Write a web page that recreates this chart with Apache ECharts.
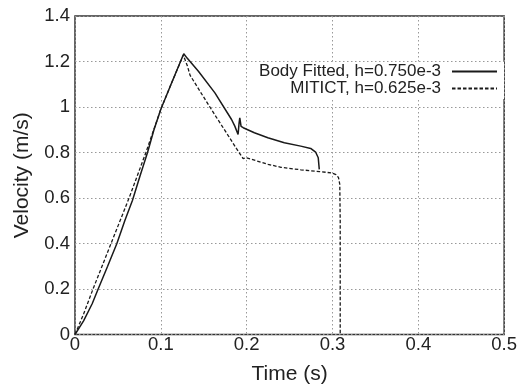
<!DOCTYPE html>
<html>
<head>
<meta charset="utf-8">
<script src="https://cdn.jsdelivr.net/npm/echarts@6/dist/echarts.min.js"></script>
<style>html,body{margin:0;padding:0;background:#fff}#c{width:520px;height:390px}</style>
</head>
<body>
<div id="c"></div>
<script>
// Tick values
const xTicks = [0, 0.1, 0.2, 0.3, 0.4, 0.5];
const yTicks = [0, 0.2, 0.4, 0.6, 0.8, 1.0, 1.2, 1.4];
const seriesNames = ['Body Fitted, h=0.750e-3', 'MITICT, h=0.625e-3'];

// Body fitted (solid)
const bodyT = [0, 0.01, 0.02, 0.027, 0.038, 0.0488, 0.058, 0.067, 0.076, 0.0845, 0.092, 0.1, 0.113, 0.1267,
  0.1306, 0.144, 0.163, 0.1824, 0.1862, 0.190, 0.1912, 0.192, 0.1935, 0.196, 0.209, 0.2247, 0.2439, 0.263, 0.2746, 0.2803, 0.2834, 0.2846];
const bodyV = [0, 0.06, 0.135, 0.2, 0.3, 0.4, 0.5, 0.59, 0.7, 0.8, 0.9, 0.99, 1.11, 1.234,
  1.215, 1.156, 1.062, 0.945, 0.916, 0.879, 0.93, 0.952, 0.915, 0.909, 0.887, 0.865, 0.843, 0.828, 0.818, 0.802, 0.777, 0.726];

// MITICT (dashed)
const mitT = [0, 0.01, 0.021, 0.042, 0.063, 0.0826, 0.1, 0.113, 0.1262,
  0.131, 0.134, 0.148, 0.163, 0.175, 0.188, 0.1959, 0.1997, 0.2055, 0.225, 0.24, 0.263, 0.285, 0.2995, 0.304, 0.307, 0.3085, 0.309, 0.309];
const mitV = [0, 0.09, 0.2, 0.4, 0.6, 0.8, 0.99, 1.11, 1.228,
  1.18, 1.14, 1.055, 0.965, 0.895, 0.818, 0.773, 0.777, 0.77, 0.748, 0.735, 0.724, 0.716, 0.71, 0.703, 0.69, 0.66, 0.5, 0];

const zip = (a, b) => a.map((v, i) => [v, b[i]]);
const FONT = 'Liberation Sans, Arial, Helvetica, sans-serif';
const chart = echarts.init(document.getElementById('c'), null, {renderer: 'canvas'});
chart.setOption({
  animation: false,
  backgroundColor: '#fff',
  grid: {left: 75, right: 11, top: 16, bottom: 54, show: true, borderColor: '#333', borderWidth: 1.5, backgroundColor: 'transparent'},
  legend: {
    data: seriesNames,
    orient: 'vertical',
    align: 'right',
    right: 16,
    top: 62,
    padding: [1, 6, 2, 8],
    itemGap: 0,
    itemWidth: 45,
    itemHeight: 14,
    backgroundColor: '#fff',
    itemStyle: {opacity: 0},
    textStyle: {fontFamily: FONT, fontSize: 17, color: '#222', padding: [0, 6, 0, 0]}
  },
  xAxis: {
    type: 'value', min: xTicks[0], max: xTicks[xTicks.length - 1], interval: 0.1,
    name: 'Time (s)', nameLocation: 'middle', nameGap: 40,
    nameTextStyle: {fontFamily: FONT, fontSize: 21, color: '#222', verticalAlign: 'middle'},
    axisLine: {show: false},
    axisTick: {show: false},
    axisLabel: {fontFamily: FONT, fontSize: 18.5, color: '#222', margin: 1},
    splitLine: {show: true, lineStyle: {color: '#999', type: [1.5, 2.5], width: 1}}
  },
  yAxis: {
    type: 'value', min: yTicks[0], max: yTicks[yTicks.length - 1], interval: 0.2,
    name: 'Velocity (m/s)', nameLocation: 'middle', nameGap: 53,
    nameTextStyle: {fontFamily: FONT, fontSize: 21, color: '#222', verticalAlign: 'middle'},
    axisLine: {show: false},
    axisTick: {show: false},
    axisLabel: {fontFamily: FONT, fontSize: 18.5, color: '#222', margin: 5},
    splitLine: {show: true, lineStyle: {color: '#999', type: [1.5, 2.5], width: 1}}
  },
  series: [
    {name: seriesNames[0], type: 'line', data: zip(bodyT, bodyV), symbol: 'none', smooth: false,
     lineStyle: {color: '#1a1a1a', width: 1.5, type: 'solid'}, itemStyle: {color: '#1a1a1a'}},
    {name: seriesNames[1], type: 'line', data: zip(mitT, mitV), symbol: 'none', smooth: false,
     lineStyle: {color: '#1a1a1a', width: 1.3, type: [3.5, 2]}, itemStyle: {color: '#1a1a1a'}}
  ]
});
</script>
</body>
</html>
